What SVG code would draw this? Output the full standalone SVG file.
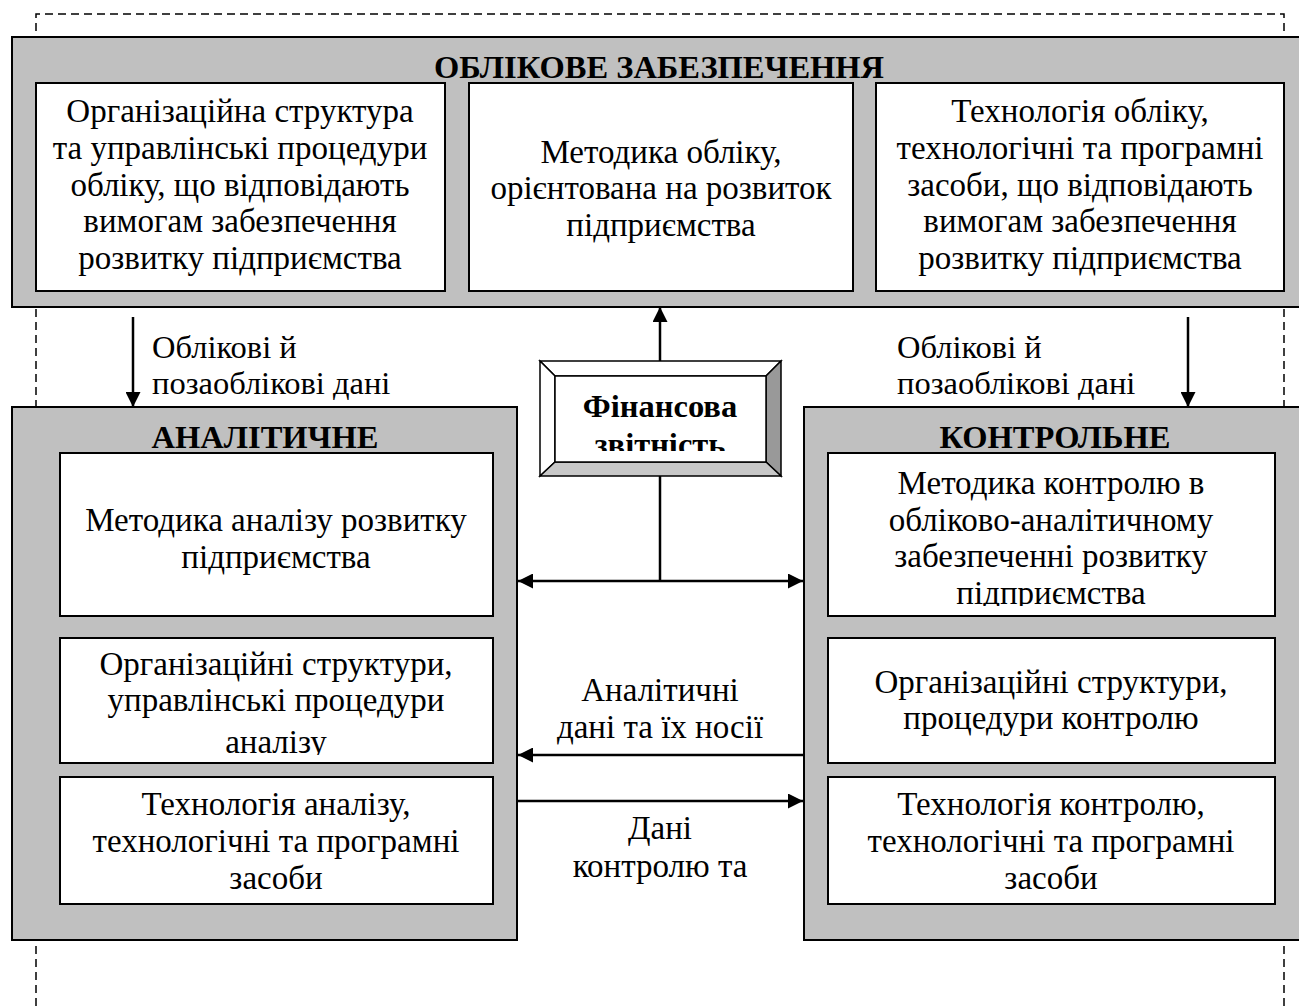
<svg xmlns="http://www.w3.org/2000/svg" width="1299" height="1006" viewBox="0 0 1299 1006">
  <style>
    text { font-family: "Liberation Serif", "Times New Roman", serif; fill: #000; }
    .t { font-size: 33px; text-anchor: middle; }
    .l { font-size: 32.5px; }
    .h { font-size: 32.5px; font-weight: bold; text-anchor: middle; }
    .grp { fill: #c0c0c0; stroke: #000; stroke-width: 2; }
    .box { fill: #fff; stroke: #000; stroke-width: 2; }
    .dash { fill: none; stroke: #000; stroke-width: 1.5; stroke-dasharray: 8 5; }
    .ln { fill: none; stroke: #000; stroke-width: 2.5; }
    .bev { stroke: #000; stroke-width: 1.5; stroke-linejoin: miter; }
  </style>
  <defs>
    <marker id="ah" viewBox="0 0 10 10" refX="10" refY="5" markerWidth="6.5" markerHeight="6" markerUnits="strokeWidth" orient="auto">
      <path d="M0,0 L10,5 L0,10 Z" fill="#000"/>
    </marker>
    <marker id="ahs" viewBox="0 0 10 10" refX="0" refY="5" markerWidth="6.5" markerHeight="6" markerUnits="strokeWidth" orient="auto">
      <path d="M10,0 L0,5 L10,10 Z" fill="#000"/>
    </marker>
    <clipPath id="clipFin"><rect x="555" y="376" width="211" height="75"/></clipPath>
    <clipPath id="clipA2"><rect x="60" y="638" width="433" height="117"/></clipPath>
    <clipPath id="clipC1"><rect x="828" y="453" width="447" height="153"/></clipPath>
  </defs>

  <!-- outer dashed frame -->
  <path class="dash" d="M36,1006 V14 H1284 V1006"/>

  <!-- accounting support block -->
  <g id="accounting">
    <rect class="grp" x="12" y="37" width="1300" height="270"/>
    <text class="h" x="659" y="78">ОБЛІКОВЕ ЗАБЕЗПЕЧЕННЯ</text>
  </g>
  <g id="acc-org">
    <rect class="box" x="36" y="83" width="409" height="208"/>
    <text class="t" x="240" y="122">Організаційна структура</text>
    <text class="t" x="240" y="159">та управлінські процедури</text>
    <text class="t" x="240" y="196">обліку, що відповідають</text>
    <text class="t" x="240" y="232">вимогам забезпечення</text>
    <text class="t" x="240" y="269">розвитку підприємства</text>
  </g>
  <g id="acc-method">
    <rect class="box" x="469" y="83" width="384" height="208"/>
    <text class="t" x="661" y="163">Методика обліку,</text>
    <text class="t" x="661" y="199">орієнтована на розвиток</text>
    <text class="t" x="661" y="236">підприємства</text>
  </g>
  <g id="acc-tech">
    <rect class="box" x="876" y="83" width="408" height="208"/>
    <text class="t" x="1080" y="122">Технологія обліку,</text>
    <text class="t" x="1080" y="159">технологічні та програмні</text>
    <text class="t" x="1080" y="196">засоби, що відповідають</text>
    <text class="t" x="1080" y="232">вимогам забезпечення</text>
    <text class="t" x="1080" y="269">розвитку підприємства</text>
  </g>

  <!-- analytical block -->
  <g id="analytical">
    <rect class="grp" x="12" y="407" width="505" height="533"/>
    <text class="h" x="265" y="448">АНАЛІТИЧНЕ</text>
  </g>
  <g id="an-method">
    <rect class="box" x="60" y="453" width="433" height="163"/>
    <text class="t" x="276" y="531">Методика аналізу розвитку</text>
    <text class="t" x="276" y="568">підприємства</text>
  </g>
  <g id="an-org">
    <rect class="box" x="60" y="638" width="433" height="125"/>
    <g clip-path="url(#clipA2)">
      <text class="t" x="276" y="675">Організаційні структури,</text>
      <text class="t" x="276" y="711">управлінські процедури</text>
      <text class="t" x="276" y="753">аналізу</text>
    </g>
  </g>
  <g id="an-tech">
    <rect class="box" x="60" y="777" width="433" height="127"/>
    <text class="t" x="276" y="815">Технологія аналізу,</text>
    <text class="t" x="276" y="852">технологічні та програмні</text>
    <text class="t" x="276" y="889">засоби</text>
  </g>

  <!-- control block -->
  <g id="control">
    <rect class="grp" x="804" y="407" width="510" height="533"/>
    <text class="h" x="1055" y="448">КОНТРОЛЬНЕ</text>
  </g>
  <g id="ct-method">
    <rect class="box" x="828" y="453" width="447" height="163"/>
    <g clip-path="url(#clipC1)">
      <text class="t" x="1051" y="494">Методика контролю в</text>
      <text class="t" x="1051" y="531">обліково-аналітичному</text>
      <text class="t" x="1051" y="567">забезпеченні розвитку</text>
      <text class="t" x="1051" y="604">підприємства</text>
    </g>
  </g>
  <g id="ct-org">
    <rect class="box" x="828" y="638" width="447" height="125"/>
    <text class="t" x="1051" y="693">Організаційні структури,</text>
    <text class="t" x="1051" y="729">процедури контролю</text>
  </g>
  <g id="ct-tech">
    <rect class="box" x="828" y="777" width="447" height="127"/>
    <text class="t" x="1051" y="815">Технологія контролю,</text>
    <text class="t" x="1051" y="852">технологічні та програмні</text>
    <text class="t" x="1051" y="889">засоби</text>
  </g>

  <!-- financial statements (bevelled frame) -->
  <g id="financial">
    <polygon class="bev" fill="#fff" points="540,361 781,361 766,376 555,376"/>
    <polygon class="bev" fill="#fff" points="540,361 555,376 555,462 540,476"/>
    <polygon class="bev" fill="#999" points="781,361 781,476 766,462 766,376"/>
    <polygon class="bev" fill="#c8c8c8" points="540,476 781,476 766,462 555,462"/>
    <rect x="555" y="376" width="211" height="86" fill="#fff" stroke="#000" stroke-width="1.5"/>
    <g clip-path="url(#clipFin)">
      <text class="h" x="660" y="417">Фінансова</text>
      <text class="h" x="660" y="455">звітність</text>
    </g>
  </g>

  <!-- connectors -->
  <g id="connectors">
    <line class="ln" x1="660" y1="361" x2="660" y2="307" marker-end="url(#ah)"/>
    <line class="ln" x1="133" y1="317" x2="133" y2="407" marker-end="url(#ah)"/>
    <line class="ln" x1="1188" y1="317" x2="1188" y2="407" marker-end="url(#ah)"/>
    <line class="ln" x1="660" y1="476" x2="660" y2="581"/>
    <line class="ln" x1="518" y1="581" x2="803" y2="581" marker-start="url(#ahs)" marker-end="url(#ah)"/>
    <line class="ln" x1="804" y1="755" x2="518" y2="755" marker-end="url(#ah)"/>
    <line class="ln" x1="517" y1="801" x2="803" y2="801" marker-end="url(#ah)"/>
    <text class="l" x="152" y="358">Облікові й</text>
    <text class="l" x="152" y="394">позаоблікові дані</text>
    <text class="l" x="897" y="358">Облікові й</text>
    <text class="l" x="897" y="394">позаоблікові дані</text>
    <text class="t" x="660" y="701">Аналітичні</text>
    <text class="t" x="660" y="738">дані та їх носії</text>
    <text class="t" x="660" y="839">Дані</text>
    <text class="t" x="660" y="877">контролю та</text>
  </g>
</svg>
